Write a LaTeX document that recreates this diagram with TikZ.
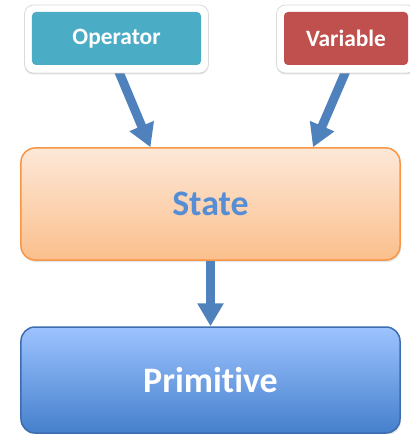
\documentclass[tikz,border=0pt]{standalone}
\usepackage{fontspec}
\setmainfont{Carlito}[Ligatures={NoCommon}]
\usetikzlibrary{arrows.meta,shadows,backgrounds}
\definecolor{opteal}{HTML}{4BACC6}
\definecolor{varred}{HTML}{C0504D}
\definecolor{stateedge}{HTML}{F79646}
\definecolor{statetop}{HTML}{FDE8D8}
\definecolor{statebot}{HTML}{FBBF8C}
\definecolor{statetext}{HTML}{558ED5}
\definecolor{primedge}{HTML}{3E6DAF}
\definecolor{primtop}{HTML}{9DC3FF}
\definecolor{primbot}{HTML}{4580CC}
\definecolor{flowblue}{HTML}{4F81BD}
\begin{document}
\begin{tikzpicture}[x=1bp,y=-1bp,
    frame/.style={fill=white,draw=black!14,line width=0.8bp,rounded corners=9bp,
      minimum height=68bp,inner sep=0pt,
      drop shadow={opacity=0.25,shadow xshift=0bp,shadow yshift=-1.5bp}},
    smallbox/.style={rounded corners=4bp,minimum height=53bp,inner sep=0pt,
      text=white,font=\bfseries\fontsize{23.5}{28}\selectfont},
    bigbox/.style={line width=1.5bp,rounded corners=14bp,minimum width=379bp,inner sep=0pt,
      font=\bfseries\fontsize{36}{42}\selectfont,
      drop shadow={opacity=0.2,shadow xshift=1bp,shadow yshift=-2bp}},
    flow/.style={draw=flowblue,line width=9bp,-{Triangle[width=25bp,length=23bp]}}]
  \useasboundingbox (0,0) rectangle (409,434);
  % top inputs
  \node[frame,minimum width=184bp] (opframe) at (116.5,39) {};
  \node[smallbox,fill=opteal,minimum width=169bp] (op) at (116.5,38.5) {Operator};
  \node[frame,minimum width=139bp] (varframe) at (346,39) {};
  \node[smallbox,fill=varred,minimum width=124bp] (var) at (346,38.5) {Variable};
  % main boxes
  \node[bigbox,draw=stateedge,top color=statetop,bottom color=statebot,
    text=statetext,minimum height=112bp] (state) at (210.5,204) {State};
  \node[bigbox,draw=primedge,top color=primtop,bottom color=primbot,
    text=white,minimum height=106bp] (prim) at (210.5,380) {Primit\kern0pt ive};
  % arrows
  \begin{pgfonlayer}{background}
    \draw[flow] ([xshift=1bp,yshift=5bp]opframe.south) -- ([xshift=-60bp]state.north);
    \draw[flow] ([xshift=1bp,yshift=5bp]varframe.south) -- ([xshift=102.5bp]state.north);
  \end{pgfonlayer}
  \draw[flow] (state.south) -- (prim.north);
\end{tikzpicture}
\end{document}
